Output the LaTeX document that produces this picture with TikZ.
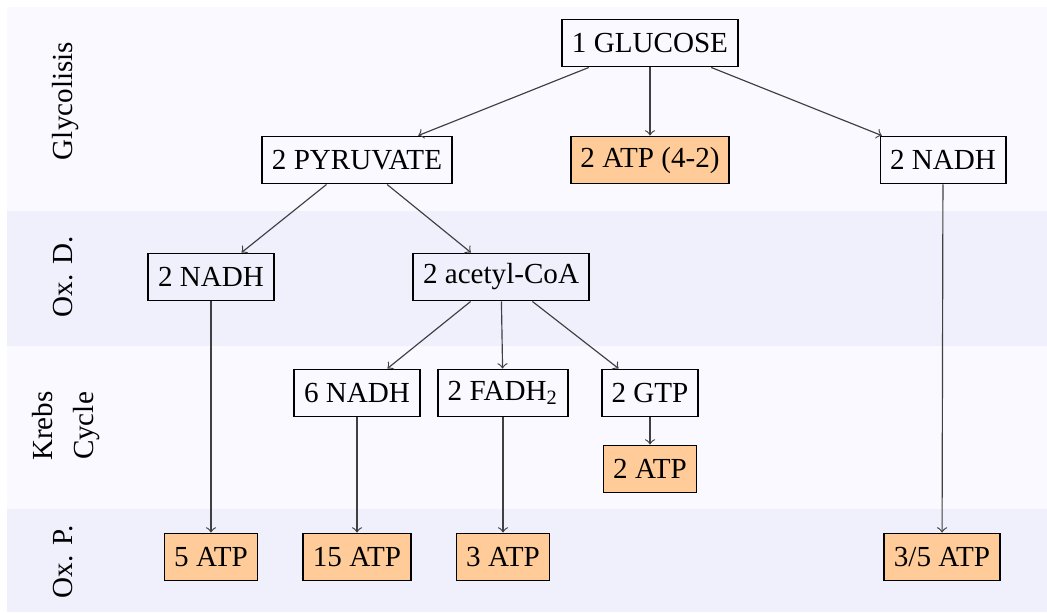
\documentclass[tikz,border=0pt]{standalone}
\usepackage{fontspec}
\setmainfont{Liberation Serif}
\definecolor{atpfill}{RGB}{255,204,153}
\definecolor{bandA}{RGB}{249,249,255}
\definecolor{bandB}{RGB}{240,240,253}
\begin{document}
\begin{tikzpicture}[x=0.3436pt,y=-0.3436pt,
  box/.style={draw=black,line width=0.6pt,minimum height=16.2pt,inner xsep=3.33pt,font=\fontsize{10}{12}\selectfont},
  atp/.style={box,fill=atpfill},
  arr/.style={->,draw=black!75,line width=0.4pt},
  lbl/.style={rotate=90,anchor=base,inner sep=0pt,font=\fontsize{10}{12}\selectfont}]
\useasboundingbox (0,0) rectangle (1047,612);
\fill[white] (0,0) rectangle (1047,612);
% bands
\fill[bandA] (7,7) rectangle (1047,211);
\fill[bandB] (7,211) rectangle (1047,346);
\fill[bandA] (7,346) rectangle (1047,509);
\fill[bandB] (7,509) rectangle (1047,612);
% band labels
\node[lbl] (lglyc) at (72,101) {Glycolisis};
\node[lbl] (loxd) at (72,277) {Ox. D.};
\node[lbl] (lkrebs) at (52,426) {Krebs};
\node[lbl] (lcycle) at (93,426) {Cycle};
\node[lbl] (loxp) at (72,562) {Ox. P.};
% nodes
\node[box] (glu) at (650,43) {1 GLUCOSE};
\node[box] (pyr) at (357,160) {2 PYRUVATE};
\node[atp] (atpa) at (650,160) {2 ATP (4-2)};
\node[box] (nadhr) at (943,160) {2 NADH};
\node[box] (nadhl) at (211,277) {2 NADH};
\node[box] (acoa) at (501,277) {2 acetyl-CoA};
\node[box] (nadh6) at (357,393) {6 NADH};
\node[box] (fadh) at (503,393) {2 FADH\textsubscript{2}};
\node[box] (gtp) at (650,393) {2 GTP};
\node[atp] (atpk) at (650,469) {2 ATP};
\node[atp] (atp5) at (211,557) {5 ATP};
\node[atp] (atp15) at (357,557) {15 ATP};
\node[atp] (atp3) at (503,557) {3 ATP};
\node[atp] (atp35) at (942,557) {3/5 ATP};
% connectors
\draw[arr] (glu) -- (pyr);
\draw[arr] (glu) -- (atpa);
\draw[arr] (glu) -- (nadhr);
\draw[arr] (pyr) -- (nadhl);
\draw[arr] (pyr) -- (acoa);
\draw[arr] (acoa) -- (nadh6);
\draw[arr] (acoa) -- (fadh);
\draw[arr] (acoa) -- (gtp);
\draw[arr] (gtp) -- (atpk);
\draw[arr] (nadhl) -- (atp5);
\draw[arr] (nadh6) -- (atp15);
\draw[arr] (fadh) -- (atp3);
\draw[arr] (nadhr) -- (atp35);
\end{tikzpicture}
\end{document}
